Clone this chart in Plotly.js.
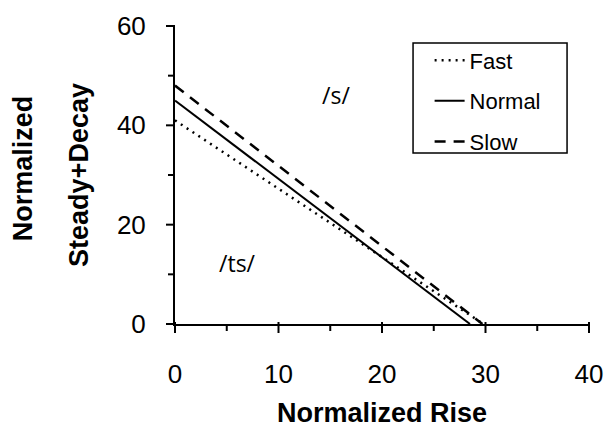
<!DOCTYPE html>
<html>
<head>
<meta charset="utf-8">
<script src="https://cdn.plot.ly/plotly-3.0.1.min.js"></script>
<style>html,body{margin:0;padding:0;background:#fff}#chart{width:607px;height:428px}</style>
</head>
<body>
<div id="chart"></div>
<script>
// Data
const seriesNames = ["Fast", "Normal", "Slow"];
const fastX = [0, 29.8];
const fastY = [41, 0];
const normalX = [0, 28.5];
const normalY = [45, 0];
const slowX = [0, 29.7];
const slowY = [48, 0];
const xMajorTicks = [0, 10, 20, 30, 40];
const xMinorTicks = [5, 15, 25, 35];
const yMajorTicks = [0, 20, 40, 60];
const yMinorTicks = [10, 30, 50];
const regionLabels = ["/s/", "/ts/"];
const regionX = [15.6, 6.0];
const regionY = [46.1, 12.3];

const xRange = [0, 40];
const yRange = [0, 60];
const W = 607, H = 428;
const M = {l: 175, r: 18, t: 26, b: 104};
const plotW = W - M.l - M.r;
const plotH = H - M.t - M.b;

const lineCommon = {mode: "lines", type: "scatter", hoverinfo: "skip"};
const traces = [
  Object.assign({}, lineCommon, {name: seriesNames[0], x: fastX, y: fastY, legendgroup: "a",
    line: {color: "#000", width: 2.5, dash: "2px,5px"}}),
  Object.assign({}, lineCommon, {name: seriesNames[1], x: normalX, y: normalY, legendgroup: "b",
    line: {color: "#000", width: 2, dash: "solid"}}),
  Object.assign({}, lineCommon, {name: seriesNames[2], x: slowX, y: slowY, legendgroup: "c",
    line: {color: "#000", width: 2.5, dash: "11px,8px"}})
];

const axisFont = {family: "Liberation Sans, Arial, sans-serif", size: 26, color: "#000"};
const titleFont = {family: "Liberation Sans, Arial, sans-serif", size: 27, color: "#000", weight: "bold"};
const clear = "rgba(0,0,0,0)";

// Native ticks are transparent (they only set the label gap)
const makeAxis = (range, vals, labelGap, title, standoff) => ({
  range: range, tickmode: "array", tickvals: vals, ticktext: vals.map(String),
  showgrid: false, zeroline: false, showline: true, linecolor: "#000", linewidth: 2,
  ticks: "outside", ticklen: labelGap, tickwidth: 1, tickcolor: clear,
  tickfont: axisFont,
  title: {text: title, font: titleFont, standoff: standoff},
  automargin: false, fixedrange: true
});

// Tick marks as paper-referenced line shapes, placed from the tick values and the axis ranges
const fracX = v => (v - xRange[0]) / (xRange[1] - xRange[0]);
const fracY = v => (v - yRange[0]) / (yRange[1] - yRange[0]);
const tickLine = {color: "#000", width: 2};
const xTickShape = (v, up, down) => ({
  type: "line", xref: "paper", yref: "paper",
  x0: fracX(v), x1: fracX(v), y0: up / plotH, y1: -down / plotH, line: tickLine, layer: "above"
});
const yTickShape = (v, left, right) => ({
  type: "line", xref: "paper", yref: "paper",
  y0: fracY(v), y1: fracY(v), x0: -left / plotW, x1: right / plotW, line: tickLine, layer: "above"
});

const shapes = [{
  type: "rect", xref: "paper", yref: "paper",
  x0: 0.575, x1: 0.947, y0: 0.574, y1: 0.943,
  line: {color: "#000", width: 1.5}, fillcolor: clear, layer: "below"
}]
  .concat(xMajorTicks.map(v => xTickShape(v, 2, 9)))
  .concat(xMinorTicks.map(v => xTickShape(v, 0, 7)))
  .concat(yMajorTicks.map(v => yTickShape(v, 9, 0)))
  .concat(yMinorTicks.map(v => yTickShape(v, 7, 0)));

const layout = {
  width: W, height: H,
  margin: {l: M.l, r: M.r, t: M.t, b: M.b, pad: 0},
  paper_bgcolor: "#fff", plot_bgcolor: "#fff",
  showlegend: true,
  xaxis: makeAxis(xRange, xMajorTicks, 26, "Normalized Rise", 20),
  yaxis: makeAxis(yRange, yMajorTicks, 22, "Steady+Decay", 20),
  legend: {
    x: 0.615, y: 0.955, xanchor: "left", yanchor: "top",
    bgcolor: clear, borderwidth: 0,
    font: {family: "Liberation Sans, Arial, sans-serif", size: 22, color: "#000"},
    traceorder: "grouped", tracegroupgap: 9
  },
  shapes: shapes,
  annotations: [
    {text: "Normalized", xref: "paper", yref: "paper", x: -0.367, y: 0.523,
     xanchor: "center", yanchor: "middle", textangle: -90, showarrow: false, font: titleFont},
    {text: regionLabels[0], x: regionX[0], y: regionY[0], xref: "x", yref: "y", showarrow: false,
     font: {family: "Open Sans, Noto Sans, sans-serif", size: 23, color: "#000"}},
    {text: regionLabels[1], x: regionX[1], y: regionY[1], xref: "x", yref: "y", showarrow: false,
     font: {family: "Open Sans, Noto Sans, sans-serif", size: 23, color: "#000"}}
  ]
};

Plotly.newPlot("chart", traces, layout, {staticPlot: true, displayModeBar: false});
</script>
</body>
</html>
